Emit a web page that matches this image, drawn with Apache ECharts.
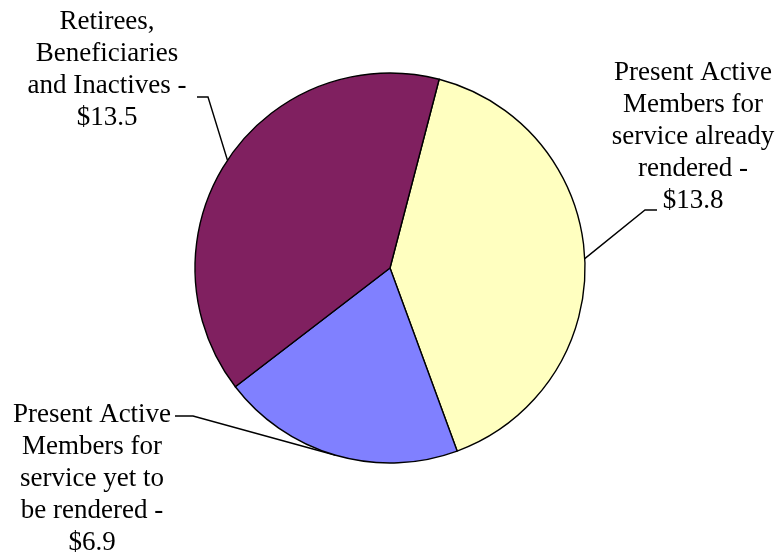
<!DOCTYPE html>
<html>
<head>
<meta charset="utf-8">
<script src="https://cdn.jsdelivr.net/npm/echarts@6/dist/echarts.min.js"></script>
<style>html,body{margin:0;padding:0;background:#fff}#c{width:782px;height:557px}</style>
</head>
<body>
<div id="c"></div>
<script>
var categories = [
  "Present Active\nMembers for\nservice already\nrendered -\n$13.8",
  "Present Active\nMembers for\nservice yet to\nbe rendered -\n$6.9",
  "Retirees,\nBeneficiaries\nand Inactives -\n$13.5"
];
var values = [13.8, 6.9, 13.5];
var colors = ["#FFFFC0", "#8080FF", "#802060"];
// label placement (text anchor centres) and leader elbow offsets
var labelPos = [[693, 137], [92, 479], [107, 70]];
var elbows = [[[645, 210], [657, 210]], [[193, 416], [175, 416]], [[208, 97], [197, 97]]];

var cx = 390, cy = 268, R = 195, startAngle = 75.4;
var total = values.reduce(function(a,b){return a+b;},0);
function edgePoint(i){
  var acc = 0;
  for (var k=0;k<i;k++) acc += values[k];
  var mid = (90 - startAngle) + (acc + values[i]/2)/total*360; // clockwise from top
  var a = mid*Math.PI/180;
  return [cx + R*Math.sin(a), cy - R*Math.cos(a)];
}

var chart = echarts.init(document.getElementById('c'), null, {renderer:'canvas'});
chart.setOption({
  animation:false,
  series:[{
    type:'pie',
    center:[cx, cy],
    radius:R,
    startAngle:startAngle,
    clockwise:true,
    data: values.map(function(v,i){return {name:categories[i], value:v, itemStyle:{color:colors[i]}};}),
    itemStyle:{borderColor:'#000', borderWidth:1.4},
    label:{
      show:true, position:'outside', formatter:'{b}', overflow:'none',
      fontFamily:'Liberation Serif, Times New Roman, serif', fontSize:27, lineHeight:32,
      color:'#000', align:'center'
    },
    labelLine:{show:true, length:10, length2:10, lineStyle:{color:'#000', width:1.4}},
    emphasis:{disabled:true},
    labelLayout:function(p){
      var i = p.dataIndex;
      var e = edgePoint(i);
      return {
        x: labelPos[i][0], y: labelPos[i][1], align:'center', verticalAlign:'middle',
        labelLinePoints:[e, elbows[i][0], elbows[i][1]]
      };
    }
  }]
});
</script>
</body>
</html>
